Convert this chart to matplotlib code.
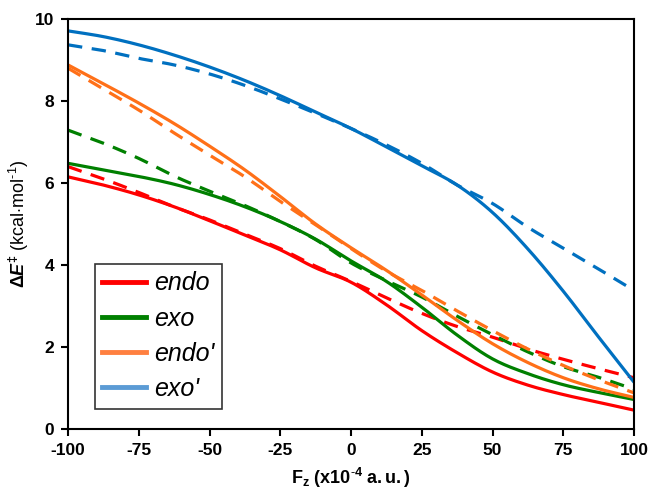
import numpy as np
import matplotlib.pyplot as plt
from matplotlib.lines import Line2D

plt.rcParams['font.family'] = 'Liberation Sans'
plt.rcParams['axes.unicode_minus'] = False
plt.rcParams['mathtext.fontset'] = 'custom'
plt.rcParams['mathtext.rm'] = 'Liberation Sans'
plt.rcParams['mathtext.it'] = 'Liberation Sans:italic'
plt.rcParams['mathtext.bf'] = 'Liberation Sans:bold'
plt.rcParams['mathtext.bfit'] = 'Liberation Sans:bold:italic'

# field strength Fz (x10^-4 a.u.)
fz = [-100, -87.5, -75, -62.5, -50, -37.5, -25, -12.5, 0,
      12.5, 25, 37.5, 50, 62.5, 75, 87.5, 100]

# barrier heights (kcal/mol), solid = computed, dashed = fitted
endo = [6.15, 5.95, 5.71, 5.42, 5.08, 4.73, 4.37, 3.93, 3.58,
        3.03, 2.40, 1.86, 1.39, 1.07, 0.84, 0.65, 0.46]
endo_fit = [6.40, 6.10, 5.77, 5.42, 5.10, 4.75, 4.40, 3.97, 3.60,
            3.20, 2.82, 2.50, 2.24, 1.95, 1.70, 1.47, 1.25]
exo = [6.48, 6.32, 6.16, 5.97, 5.72, 5.42, 5.06, 4.63, 4.10,
       3.60, 2.97, 2.29, 1.71, 1.35, 1.08, 0.89, 0.72]
exo_fit = [7.29, 6.97, 6.60, 6.17, 5.80, 5.45, 5.06, 4.62, 4.05,
           3.62, 3.22, 2.75, 2.30, 1.88, 1.52, 1.26, 0.97]
endo_p = [8.88, 8.42, 7.95, 7.45, 6.90, 6.32, 5.67, 5.00, 4.42,
          3.87, 3.27, 2.65, 2.08, 1.62, 1.25, 0.98, 0.77]
endo_p_fit = [8.80, 8.29, 7.78, 7.22, 6.68, 6.15, 5.55, 4.98, 4.40,
              3.85, 3.38, 2.88, 2.40, 1.95, 1.55, 1.20, 0.88]
exo_p = [9.71, 9.57, 9.37, 9.12, 8.83, 8.50, 8.13, 7.73, 7.33,
         6.88, 6.42, 5.95, 5.28, 4.39, 3.36, 2.24, 1.14]
exo_p_fit = [9.37, 9.23, 9.04, 8.88, 8.66, 8.38, 8.05, 7.70, 7.33,
             6.93, 6.48, 5.95, 5.50, 4.92, 4.41, 3.90, 3.38]

labels = ['endo', 'exo', "endo'", "exo'"]
colors = ['#ff0000', '#008000', '#ff7018', '#0070c0']
legend_colors = ['#ff0000', '#008000', '#ff8040', '#5b9bd5']


def smooth(x, y, n=12):
    # Catmull-Rom curve through the points, like a spreadsheet "smoothed line"
    x = np.asarray(x, float)
    y = np.asarray(y, float)
    px = np.concatenate([[2 * x[0] - x[1]], x, [2 * x[-1] - x[-2]]])
    py = np.concatenate([[2 * y[0] - y[1]], y, [2 * y[-1] - y[-2]]])
    xs, ys = [], []
    t = np.linspace(0, 1, n, endpoint=False)
    for i in range(1, len(px) - 2):
        for p, out in ((px, xs), (py, ys)):
            p0, p1, p2, p3 = p[i - 1], p[i], p[i + 1], p[i + 2]
            out.extend(0.5 * (2 * p1 + (p2 - p0) * t
                              + (2 * p0 - 5 * p1 + 4 * p2 - p3) * t ** 2
                              + (3 * p1 - p0 - 3 * p2 + p3) * t ** 3))
    xs.append(x[-1])
    ys.append(y[-1])
    return xs, ys


fig = plt.figure(figsize=(6.51, 4.95), dpi=100)
ax = fig.add_axes([0.1045, 0.1333, 0.8695, 0.8283])

computed = [endo, exo, endo_p, exo_p]
fitted = [endo_fit, exo_fit, endo_p_fit, exo_p_fit]
for ys, c in zip(fitted, colors):
    ax.plot(*smooth(fz, ys), color=c, lw=2.3, ls=(0, (4.5, 3)))
for ys, c in zip(computed, colors):
    ax.plot(*smooth(fz, ys), color=c, lw=2.3, solid_capstyle='butt')

ax.set_xlim(-100, 100)
ax.set_ylim(0, 10)
ax.set_xticks(np.arange(-100, 101, 25))
ax.set_yticks(np.arange(0, 11, 2))
for lab in ax.get_xticklabels() + ax.get_yticklabels():
    lab.set_fontweight('bold')
    lab.set_fontsize(12.5)
ax.tick_params(direction='out', length=5, width=1.5, pad=5)
for s in ax.spines.values():
    s.set_linewidth(1.5)

ax.set_xlabel(r'$\mathbf{F_z\ (x10^{\text{-}4}\ a.u.)}$', fontsize=13, labelpad=6)
ax.set_ylabel(r'$\mathbf{\Delta}\boldsymbol{E}^{\mathbf{\ddagger}}\ \mathrm{(kcal{\cdot}mol^{\text{-}1})}$',
              fontsize=13, labelpad=3)

handles = [Line2D([], [], color=c, lw=3.5) for c in legend_colors]
leg = ax.legend(handles, labels, loc='lower left', bbox_to_anchor=(0.047, 0.05),
                prop={'style': 'italic', 'size': 18}, frameon=True, fancybox=False,
                edgecolor='black', handlelength=1.75, handletextpad=0.35,
                labelspacing=0.45, borderpad=0.3, borderaxespad=0)
leg.get_frame().set_linewidth(1.2)

fig.savefig('out.png', dpi=100)
